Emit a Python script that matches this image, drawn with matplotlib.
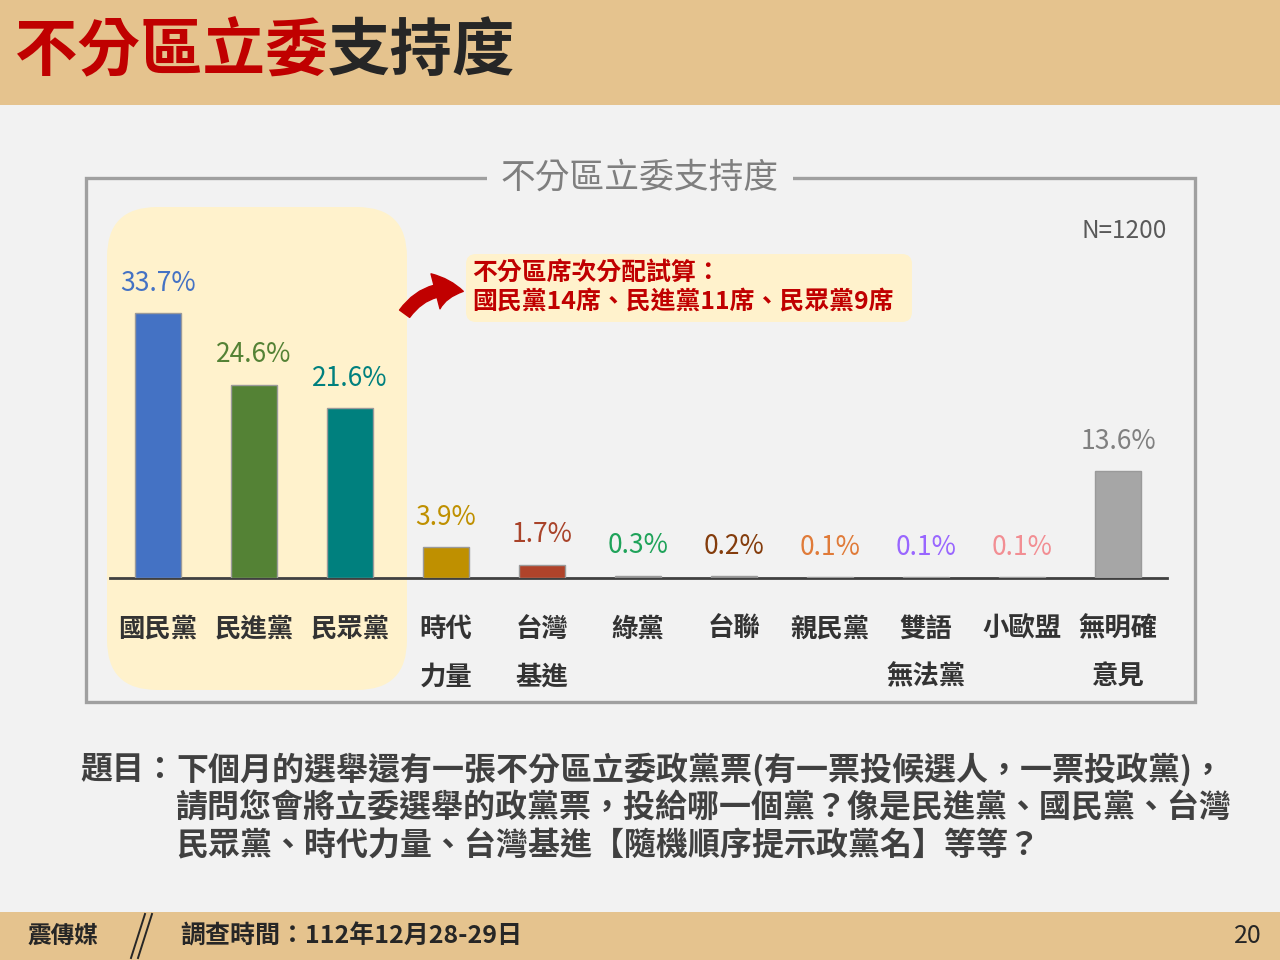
import matplotlib
matplotlib.use("Agg")
import matplotlib.pyplot as plt
from matplotlib.patches import FancyBboxPatch, Rectangle, FancyArrowPatch
from matplotlib.lines import Line2D

plt.rcParams['font.family'] = ['Noto Sans CJK TC', 'DejaVu Sans']

# ---- data ----
parties = ["國民黨", "民進黨", "民眾黨", "時代\n力量", "台灣\n基進", "綠黨", "台聯",
           "親民黨", "雙語\n無法黨", "小歐盟", "無明確\n意見"]
values = [33.7, 24.6, 21.6, 3.9, 1.7, 0.3, 0.2, 0.1, 0.1, 0.1, 13.6]
bar_colors = ["#4472C4", "#548235", "#00807E", "#BF9000", "#B0432A", "#8C8C8C",
              "#8C8C8C", "#8C8C8C", "#8C8C8C", "#8C8C8C", "#A6A6A6"]
label_colors = ["#4472C4", "#548235", "#00807E", "#BF9000", "#A9432A", "#1FA35A",
                "#843C0C", "#E07B39", "#9966FF", "#F28E93", "#808080"]

page_title_red = "不分區立委"
page_title_dark = "支持度"
chart_title = "不分區立委支持度"
sample_note = "N=1200"
callout_lines = ["不分區席次分配試算：", "國民黨14席、民進黨11席、民眾黨9席"]
question_head = "題目："
question_lines = ["下個月的選舉還有一張不分區立委政黨票(有一票投候選人，一票投政黨)，",
                  "請問您會將立委選舉的政黨票，投給哪一個黨？像是民進黨、國民黨、台灣",
                  "民眾黨、時代力量、台灣基進【隨機順序提示政黨名】等等？"]
footer_brand = "震傳媒"
footer_date = "調查時間：112年12月28-29日"
page_no = "20"

W, H = 1280, 960
fig = plt.figure(figsize=(W / 100, H / 100), dpi=100, facecolor="#F2F2F2")
T = fig.dpi_scale_trans


def fx(x):
    return x / W


def fy(y):
    return 1 - y / H


def inch(x, y):
    return x / 100, (H - y) / 100


band = "#E5C38E"
# top band and footer band
fig.patches.append(Rectangle((0, fy(105)), 1, 105 / H, transform=fig.transFigure,
                             facecolor=band, edgecolor="none", zorder=0))
fig.patches.append(Rectangle((0, 0), 1, (H - 912) / H, transform=fig.transFigure,
                             facecolor=band, edgecolor="none", zorder=0))

# chart frame
x0, y0 = inch(86, 702)
fig.patches.append(Rectangle((x0, y0), (1195 - 86) / 100, (702 - 178) / 100, transform=T,
                             facecolor="none", edgecolor="#A0A0A0", linewidth=2.4, zorder=1))

# highlight box
hx, hy = inch(107, 690)
fig.patches.append(FancyBboxPatch((hx, hy), (407 - 107) / 100, (690 - 207) / 100,
                                  boxstyle="round,pad=0,rounding_size=0.5", transform=T,
                                  facecolor="#FFF2CC", edgecolor="none", zorder=1))

# callout box
cx, cy = inch(466, 322)
fig.patches.append(FancyBboxPatch((cx, cy), (912 - 466) / 100, (322 - 254) / 100,
                                  boxstyle="round,pad=0,rounding_size=0.1", transform=T,
                                  facecolor="#FFF2CC", edgecolor="none", zorder=1))

# axes
ax_bottom = fy(578)
px_per_pct = 265 / 33.7
ymax = 40
ax_h = ymax * px_per_pct / H
ax = fig.add_axes([fx(110), ax_bottom, (1167 - 110) / W, ax_h])
ax.set_facecolor("none")
ax.set_zorder(2)
xs = list(range(len(values)))
ax.bar(xs, values, width=0.48, color=bar_colors, edgecolor="#9A9A9A", linewidth=1.0, zorder=3)
ax.set_xlim(-0.5, 10.51)
ax.set_ylim(0, ymax)
for s in ["top", "right", "left"]:
    ax.spines[s].set_visible(False)
ax.spines["bottom"].set_color("#404040")
ax.spines["bottom"].set_linewidth(2)
ax.set_yticks([])
ax.set_xticks(xs)
ax.set_xticklabels(parties, fontsize=19, fontweight="bold", color="#333333", linespacing=2.0)
ax.tick_params(axis="x", length=0, pad=27)

for x, v, c in zip(xs, values, label_colors):
    ax.annotate(f"{v}%", (x, v), xytext=(0, 21.5), textcoords="offset points",
                ha="center", va="center", fontsize=19, color=c)

# chart title over frame line
fig.text(0.5, fy(178), chart_title, ha="center", va="center", fontsize=25, color="#7F7F7F",
         bbox=dict(facecolor="#F2F2F2", edgecolor="none", pad=10), zorder=5)

# N note
fig.text(fx(1167), fy(231), sample_note, ha="right", va="center", fontsize=17.5, color="#595959")

# callout text
fig.text(fx(472), fy(273), callout_lines[0], ha="left", va="center", fontsize=17.9,
         fontweight="bold", color="#C00000")
fig.text(fx(472), fy(302), callout_lines[1], ha="left", va="center", fontsize=17.9,
         fontweight="bold", color="#C00000")

# arrow
ax_a = inch(403, 316)
ax_b = inch(466, 292)
arrow = FancyArrowPatch(ax_a, ax_b, transform=T, connectionstyle="arc3,rad=-0.35",
                        arrowstyle="simple,head_length=1.0,head_width=1.3,tail_width=0.45",
                        mutation_scale=20, color="#C00000", zorder=4)
fig.patches.append(arrow)

# page title
t1 = fig.text(fx(15), fy(52), page_title_red, ha="left", va="center", fontsize=45,
              fontweight="bold", color="#C00000")
fig.canvas.draw()
r = fig.canvas.get_renderer()
bb = t1.get_window_extent(r)
fig.text(bb.x1 / fig.bbox.width, fy(52), page_title_dark, ha="left", va="center", fontsize=45,
         fontweight="bold", color="#262626")

# question
qc = "#404040"
fig.text(fx(80), fy(770), question_head, ha="left", va="center", fontsize=23,
         fontweight="bold", color=qc)
for i, line in enumerate(question_lines):
    fig.text(fx(176), fy(770 + 38 * i), line, ha="left", va="center", fontsize=23,
             fontweight="bold", color=qc)

# footer
fig.text(fx(28), fy(936), footer_brand, ha="left", va="center", fontsize=17,
         fontweight="bold", color="#262626")
for dx in (0, 7):
    fig.lines.append(Line2D([fx(131 + dx), fx(145 + dx)], [fy(958), fy(914)],
                            transform=fig.transFigure, color="#262626", linewidth=1.4))
fig.text(fx(180), fy(936), footer_date, ha="left", va="center", fontsize=18,
         fontweight="bold", color="#262626")
fig.text(fx(1262), fy(936), page_no, ha="right", va="center", fontsize=18, color="#262626")

fig.savefig("out.png", dpi=100, facecolor=fig.get_facecolor())
